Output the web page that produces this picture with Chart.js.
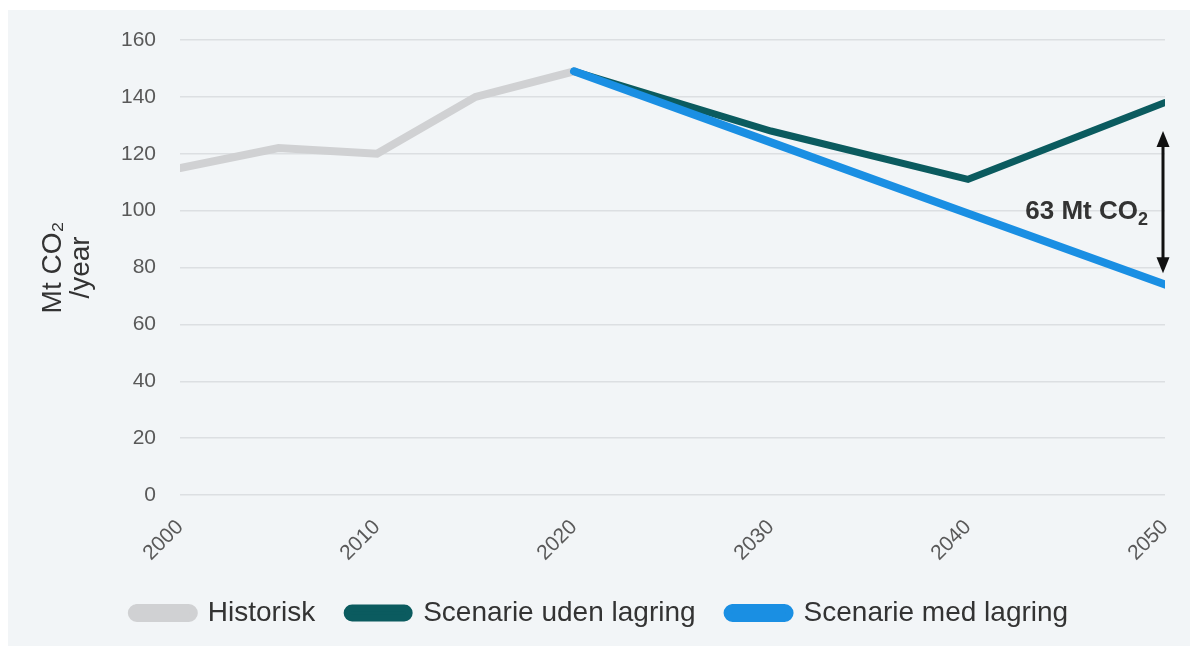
<!DOCTYPE html>
<html>
<head>
<meta charset="utf-8">
<script src="https://cdn.jsdelivr.net/npm/chart.js@4.4.1/dist/chart.umd.min.js"></script>
<style>
    html, body { margin: 0; padding: 0; background: #fff; }
    .panel { position: absolute; left: 8px; top: 10px; width: 1182px; height: 636px; background: #f2f5f7; }
    .chart-container { position: absolute; left: 0; top: 0; width: 1198px; height: 652px; }
</style>
</head>
<body>
<div class="panel"></div>
<div class="chart-container">
    <canvas id="chart" width="1198" height="652"></canvas>
</div>
<script>
const hist_years = [2000, 2005, 2010, 2015, 2020]
const hist_values = [115, 122, 120, 140, 149]
const scenario_years = [2020, 2030, 2040, 2050]
const uden_values = [149, 128, 111, 138]
const med_values = [149, 124, 99, 74]
const x_ticks = [2000, 2010, 2020, 2030, 2040, 2050]
const gap_label = '63 Mt CO'
const gap_arrow = [128, 78] // top and bottom of the arrow, in Mt

const font_family = '"Liberation Sans", Arial, sans-serif'
const to_points = (years, values) => years.map((year, i) => ({ x: year, y: values[i] }))

// double arrow + label between the two scenarios in 2050
const gap_annotation = {
    id: 'gap_annotation',
    afterDatasetsDraw(chart) {
        const { ctx, scales: { x, y } } = chart
        const px = x.getPixelForValue(2050) - 2
        const top = y.getPixelForValue(gap_arrow[0])
        const bottom = y.getPixelForValue(gap_arrow[1])
        const head = 14

        ctx.save()
        ctx.strokeStyle = '#111'
        ctx.fillStyle = '#111'
        ctx.lineWidth = 3
        ctx.beginPath()
        ctx.moveTo(px, top + head)
        ctx.lineTo(px, bottom - head)
        ctx.stroke()

        ctx.beginPath()
        ctx.moveTo(px, top)
        ctx.lineTo(px - 6.5, top + head + 2)
        ctx.lineTo(px + 6.5, top + head + 2)
        ctx.closePath()
        ctx.fill()

        ctx.beginPath()
        ctx.moveTo(px, bottom)
        ctx.lineTo(px - 6.5, bottom - head - 2)
        ctx.lineTo(px + 6.5, bottom - head - 2)
        ctx.closePath()
        ctx.fill()

        const mid = (top + bottom) / 2 + 10
        ctx.fillStyle = '#333'
        ctx.textBaseline = 'middle'
        ctx.font = 'bold 26px ' + font_family
        ctx.textAlign = 'right'
        const sub_width = 14
        const text_right = px - 11 - sub_width
        ctx.fillText(gap_label, text_right, mid)
        ctx.font = 'bold 18px ' + font_family
        ctx.textAlign = 'left'
        ctx.fillText('2', text_right, mid + 8)
        ctx.restore()
    }
}

new Chart(document.getElementById('chart'), {
    type: 'line',
    data: {
        datasets: [
            {
                label: 'Historisk',
                data: to_points(hist_years, hist_values),
                borderColor: '#d0d1d3',
                backgroundColor: '#d0d1d3',
                borderWidth: 8,
                order: 3,
            },
            {
                label: 'Scenarie uden lagring',
                data: to_points(scenario_years, uden_values),
                borderColor: '#0b5b5f',
                backgroundColor: '#0b5b5f',
                borderWidth: 7,
                order: 2,
            },
            {
                label: 'Scenarie med lagring',
                data: to_points(scenario_years, med_values),
                borderColor: '#1a8fe3',
                backgroundColor: '#1a8fe3',
                borderWidth: 8,
                order: 1,
            },
        ]
    },
    options: {
        responsive: false,
        animation: false,
        elements: {
            point: { radius: 0 },
            line: { borderCapStyle: 'round', borderJoinStyle: 'miter', tension: 0 }
        },
        layout: { padding: { left: 35, right: 33, top: 40, bottom: 15 } },
        scales: {
            x: {
                type: 'linear',
                min: 2000,
                max: 2050,
                clip: false,
                afterBuildTicks: axis => { axis.ticks = x_ticks.map(v => ({ value: v })) },
                afterFit: axis => { axis.height = 72 },
                grid: { display: false },
                border: { display: false },
                ticks: {
                    color: '#595959',
                    padding: 12,
                    font: { size: 21, family: font_family },
                    maxRotation: 45,
                    minRotation: 45,
                    callback: v => String(v),
                },
            },
            y: {
                min: 0,
                max: 160,
                ticks: {
                    stepSize: 20,
                    color: '#595959',
                    padding: 24,
                    font: { size: 21, family: font_family },
                },
                grid: { color: '#dcdfe2', lineWidth: 1.5, drawTicks: false },
                border: { display: false },
                title: {
                    display: true,
                    text: ['Mt CO\u2082', '/year'],
                    color: '#333',
                    font: { size: 28, family: font_family, lineHeight: 1.0 },
                    padding: { bottom: 2 },
                },
            }
        },
        plugins: {
            legend: {
                position: 'bottom',
                labels: {
                    sort: (a, b) => a.datasetIndex - b.datasetIndex,
                    boxWidth: 62,
                    boxHeight: 10,
                    useBorderRadius: true,
                    borderRadius: 5,
                    padding: 32,
                    color: '#333',
                    font: { size: 28, family: font_family },
                },
            },
            tooltip: { enabled: false },
        }
    },
    plugins: [gap_annotation]
})
</script>
</body>
</html>
